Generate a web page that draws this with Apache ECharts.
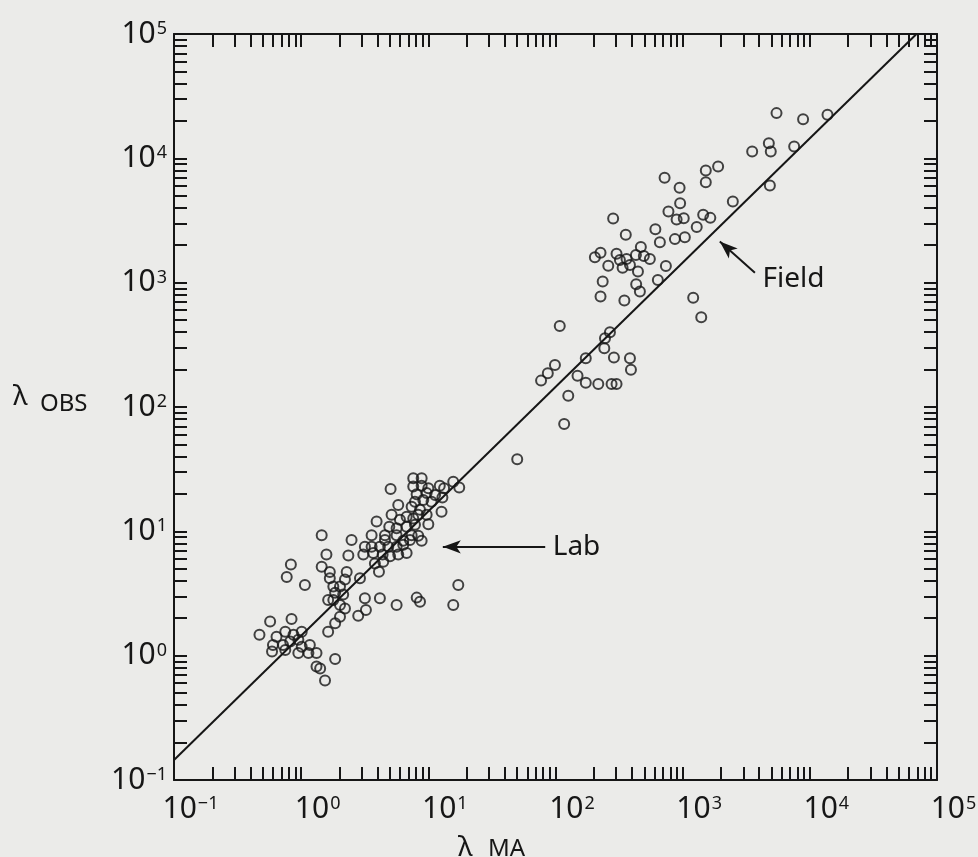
<!DOCTYPE html>
<html>
<head>
<meta charset="utf-8">
<title>λ OBS vs λ MA</title>
<script src="https://cdn.jsdelivr.net/npm/echarts@6/dist/echarts.min.js"></script>
<style>
  html, body { margin: 0; padding: 0; background: #ebebe9; }
  #chart { width: 978px; height: 857px; }
</style>
</head>
<body>
<div id="chart"></div>
<script>
// laboratory measurements (λ_MA, λ_OBS)
const labX = [0.47, 0.57, 0.84, 0.64, 0.75, 0.87, 1.01, 0.60, 0.72, 0.82, 0.95, 1.01, 1.17, 0.59, 0.75, 0.95, 1.14, 1.32, 1.85, 1.32, 1.41, 1.54,
  0.83, 0.77, 1.07, 1.45, 1.45, 1.68, 2.28, 1.68, 2.21, 1.79, 2.02, 1.85, 2.14, 1.63, 1.79, 2.02, 2.21, 2.02, 1.85, 1.63,
  2.81, 3.23, 3.17, 4.16, 5.63, 8.1, 8.6, 15.7, 17.2, 2.9, 4.09, 3.8, 4.42, 1.58, 2.35, 3.08, 3.69, 4.37, 5.0, 5.8, 6.75,
  3.17, 3.58, 4.16, 4.84, 5.63, 6.35, 2.49, 4.56, 6.35, 7.17, 8.86, 3.58, 4.56, 5.63, 7.39, 8.33, 4.93, 5.63, 6.75, 7.85, 10.0,
  3.92, 5.98, 6.75, 7.61, 8.33, 5.14, 8.6, 9.7, 12.7, 7.39, 5.8, 7.85, 9.12, 10.6, 8.09, 9.7, 11.3, 12.9, 5.05,
  7.61, 8.86, 7.61, 8.86, 10.0, 12.3, 13.3, 15.7, 17.5];
const labY = [1.47, 1.88, 1.97, 1.42, 1.56, 1.47, 1.56, 1.22, 1.22, 1.30, 1.34, 1.18, 1.22, 1.08, 1.11, 1.05, 1.05, 1.05, 0.94, 0.82, 0.79, 0.63,
  5.4, 4.3, 3.7, 9.3, 5.2, 4.7, 4.7, 4.2, 4.1, 3.6, 3.6, 3.2, 3.1, 2.8, 2.8, 2.56, 2.4, 2.06, 1.82, 1.56,
  2.09, 2.33, 2.9, 2.9, 2.56, 2.93, 2.72, 2.56, 3.7, 4.2, 4.74, 5.5, 5.7, 6.5, 6.4, 6.5, 6.7, 6.5, 6.3, 6.5, 6.7,
  7.5, 7.5, 7.5, 7.5, 7.5, 7.8, 8.5, 8.5, 8.4, 8.5, 8.4, 9.3, 9.3, 9.3, 9.3, 9.2, 10.9, 10.6, 10.9, 11.3, 11.4,
  12.0, 12.4, 13.1, 12.7, 13.6, 13.6, 14.9, 13.6, 14.4, 15.8, 16.3, 17.3, 17.9, 17.3, 19.9, 20.3, 19.6, 18.7, 21.9,
  26.7, 26.7, 22.9, 23.3, 22.2, 23.3, 22.2, 25.1, 22.5];

// field measurements (λ_MA, λ_OBS)
const fieldX = [50, 77, 87, 99, 126, 117, 108, 149, 173, 173, 217, 276, 302, 242, 245, 268, 288, 385, 392, 226,
  348, 235, 431, 461, 638, 260, 337, 445, 738, 204, 226, 302, 321, 362, 385, 429, 495, 552, 469, 662,
  869, 1040, 357, 610, 1290, 284, 773, 896, 1020, 1450, 1650, 955, 2480, 946, 721, 1520, 1520, 1900, 1210, 1400,
  3520, 4760, 4930, 7530, 4850, 5470, 8850, 13770];
const fieldY = [38, 163, 187, 218, 123, 73, 449, 178, 157, 247, 153, 153, 153, 297, 357, 400, 250, 247, 199, 773,
  718, 1020, 970, 848, 1050, 1370, 1320, 1230, 1360, 1600, 1740, 1710, 1520, 1550, 1390, 1670, 1640, 1550, 1940, 2110,
  2240, 2320, 2430, 2690, 2800, 3280, 3730, 3220, 3300, 3510, 3320, 4360, 4490, 5790, 6970, 8000, 6410, 8590, 755, 526,
  11350, 13250, 11350, 12450, 6040, 23100, 20650, 22390];

// reference line end points
const lineX = [0.1, 69000];
const lineY = [0.145, 100000];

// annotation arrows (tail -> head)
const labArrowX = [83, 13];
const labArrowY = [7.5, 7.5];
const fieldArrowX = [3700, 1960];
const fieldArrowY = [1200, 2140];

const decades = [0.1, 1, 10, 100, 1000, 10000, 100000];

// minor + major tick positions of a log axis
const allTicks = [];
decades.slice(0, -1).forEach(d => {
  for (let m = 1; m < 10; m++) allTicks.push(+(m * d).toPrecision(10));
});
allTicks.push(100000);

const FONT = 'Noto Sans';
const INK = '#161616';

function powLabel(value) {
  const e = Math.round(Math.log10(value));
  return '{b|10}{s|' + (e < 0 ? '−' + (-e) : e) + '}';
}

function pairs(xs, ys) {
  return xs.map((x, i) => [x, ys[i]]);
}

function titleText(text, x, y, size) {
  return {
    type: 'text',
    silent: true,
    style: { text: text, x: x, y: y, fill: INK, font: size + 'px "' + FONT + '"', textVerticalAlign: 'middle' }
  };
}

const chart = echarts.init(document.getElementById('chart'));

const baseAxis = {
  type: 'log',
  logBase: 10,
  min: 0.1,
  max: 100000,
  splitLine: { show: false },
  axisLine: { show: true, lineStyle: { color: INK, width: 2 } },
  axisTick: {
    show: true,
    inside: true,
    length: 13,
    customValues: allTicks,
    lineStyle: { color: INK, width: 2 }
  },
  minorTick: { show: false }
};

const labelRich = {
  b: { fontFamily: FONT, fontSize: 30, color: INK, lineHeight: 28 },
  s: { fontFamily: FONT, fontSize: 18, color: INK, lineHeight: 2, verticalAlign: 'top', padding: [0, 0, 0, 1] }
};

const circleStyle = { color: 'rgba(0,0,0,0)', borderColor: INK, borderWidth: 2 };

chart.setOption({
  backgroundColor: '#ebebe9',
  animation: false,
  grid: { left: 174, top: 34, right: 41, bottom: 77, containLabel: false, outerBoundsMode: 'none' },
  // axis titles: λ with a lowered subscript
  graphic: [
    titleText('λ', 13, 397, 28),
    titleText('OBS', 40, 404, 24),
    titleText('λ', 458, 848, 28),
    titleText('MA', 488, 849, 24)
  ],
  xAxis: [
    Object.assign({}, baseAxis, {
      position: 'bottom',
      axisLabel: {
        show: true,
        customValues: decades,
        margin: 15,
        formatter: powLabel,
        rich: {
          b: Object.assign({}, labelRich.b, { padding: [0, 0, 0, 33] }),
          s: labelRich.s
        }
      }
    }),
    Object.assign({}, baseAxis, {
      position: 'top',
      axisLabel: { show: false }
    })
  ],
  yAxis: [
    Object.assign({}, baseAxis, {
      position: 'left',
      axisLabel: {
        show: true,
        customValues: decades,
        margin: 7,
        formatter: powLabel,
        rich: labelRich
      }
    }),
    Object.assign({}, baseAxis, {
      position: 'right',
      axisLabel: { show: false }
    })
  ],
  series: [
    {
      name: 'line',
      type: 'line',
      data: pairs(lineX, lineY),
      symbol: 'none',
      lineStyle: { color: INK, width: 2 },
      silent: true,
      markLine: {
        silent: true,
        symbol: ['none', 'arrow'],
        symbolSize: [10, 18],
        lineStyle: { color: INK, width: 2, type: 'solid' },
        label: { show: false },
        data: [
          [{ coord: [labArrowX[0], labArrowY[0]] }, { coord: [labArrowX[1], labArrowY[1]] }],
          [{ coord: [fieldArrowX[0], fieldArrowY[0]] }, { coord: [fieldArrowX[1], fieldArrowY[1]] }]
        ]
      },
      markPoint: {
        silent: true,
        symbol: 'circle',
        symbolSize: 1,
        itemStyle: { color: 'rgba(0,0,0,0)' },
        label: {
          show: true,
          position: 'right',
          distance: 7,
          formatter: '{b}',
          fontFamily: FONT,
          fontSize: 28,
          color: INK
        },
        data: [
          { name: 'Lab', coord: [labArrowX[0], labArrowY[0]] },
          { name: 'Field', coord: [fieldArrowX[0], fieldArrowY[0]], label: { offset: [0, 6] } }
        ]
      }
    },
    {
      name: 'Lab',
      type: 'scatter',
      data: pairs(labX, labY),
      symbol: 'circle',
      symbolSize: 10,
      itemStyle: circleStyle
    },
    {
      name: 'Field',
      type: 'scatter',
      data: pairs(fieldX, fieldY),
      symbol: 'circle',
      symbolSize: 10,
      itemStyle: circleStyle
    }
  ]
});
</script>
</body>
</html>
